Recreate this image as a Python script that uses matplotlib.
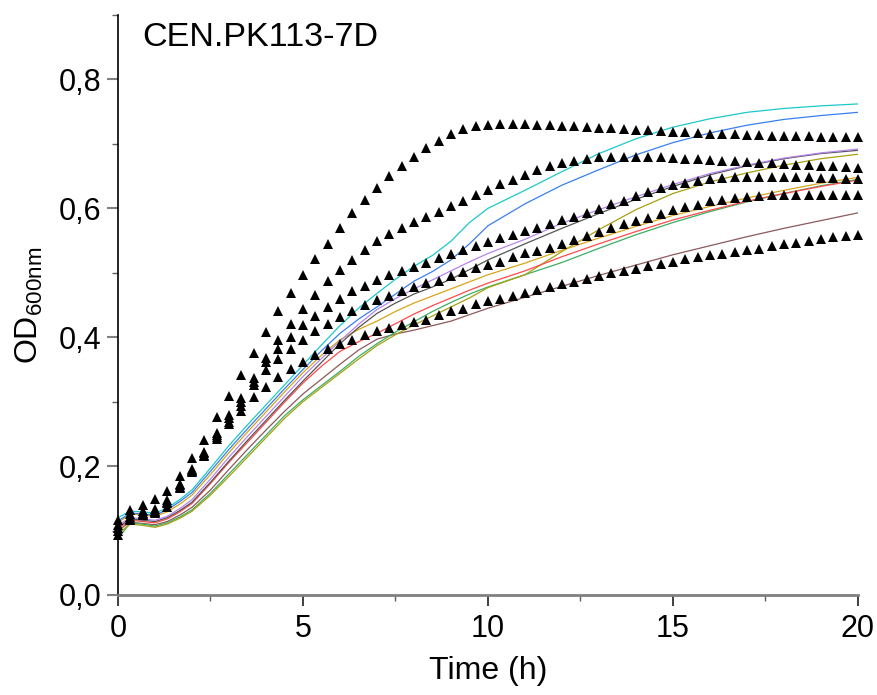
import matplotlib
matplotlib.use("Agg")
import matplotlib.pyplot as plt
import numpy as np
from matplotlib.ticker import MultipleLocator, FuncFormatter

plt.rcParams['font.family'] = ['Liberation Sans', 'DejaVu Sans']
plt.rcParams['mathtext.fontset'] = 'custom'
plt.rcParams['mathtext.rm'] = 'Liberation Sans'
plt.rcParams['mathtext.it'] = 'Liberation Sans:italic'

# ---------------- data ----------------
# measured points (triangles), every 20 min
t_pts = [i / 3 for i in range(61)]

tri_1 = [0.116, 0.132, 0.140, 0.149, 0.161, 0.185, 0.212, 0.241, 0.276, 0.309,
         0.342, 0.375, 0.408, 0.440, 0.469, 0.496, 0.521, 0.545, 0.570, 0.593,
         0.613, 0.632, 0.650, 0.665, 0.680, 0.694, 0.705, 0.716, 0.723, 0.728,
         0.730, 0.731, 0.731, 0.731, 0.730, 0.729, 0.728, 0.727, 0.726, 0.725,
         0.724, 0.723, 0.722, 0.721, 0.720, 0.719, 0.718, 0.717, 0.716, 0.715,
         0.715, 0.714, 0.714, 0.713, 0.713, 0.712, 0.712, 0.711, 0.711, 0.711, 0.710]
tri_2 = [0.108, 0.125, 0.130, 0.133, 0.148, 0.172, 0.196, 0.222, 0.252, 0.279,
         0.305, 0.336, 0.367, 0.395, 0.421, 0.444, 0.466, 0.487, 0.504, 0.520,
         0.535, 0.549, 0.560, 0.570, 0.579, 0.587, 0.595, 0.603, 0.612, 0.620,
         0.629, 0.637, 0.644, 0.652, 0.660, 0.666, 0.671, 0.674, 0.677, 0.679,
         0.680, 0.680, 0.680, 0.680, 0.679, 0.678, 0.677, 0.676, 0.675, 0.674,
         0.673, 0.672, 0.671, 0.670, 0.669, 0.668, 0.667, 0.666, 0.665, 0.664, 0.662]
tri_3 = [0.104, 0.121, 0.127, 0.131, 0.145, 0.170, 0.194, 0.220, 0.248, 0.274,
         0.300, 0.331, 0.362, 0.381, 0.400, 0.419, 0.433, 0.447, 0.459, 0.471,
         0.480, 0.489, 0.496, 0.502, 0.509, 0.515, 0.523, 0.529, 0.535, 0.541,
         0.547, 0.554, 0.559, 0.565, 0.570, 0.575, 0.582, 0.587, 0.593, 0.599,
         0.606, 0.612, 0.619, 0.625, 0.631, 0.636, 0.640, 0.643, 0.646, 0.647,
         0.648, 0.648, 0.648, 0.648, 0.648, 0.648, 0.648, 0.647, 0.647, 0.646, 0.646]
tri_4 = [0.100, 0.118, 0.125, 0.129, 0.142, 0.168, 0.192, 0.217, 0.245, 0.269,
         0.293, 0.326, 0.349, 0.366, 0.382, 0.396, 0.409, 0.421, 0.432, 0.441,
         0.450, 0.458, 0.464, 0.471, 0.478, 0.484, 0.488, 0.495, 0.501, 0.507,
         0.512, 0.517, 0.524, 0.530, 0.534, 0.539, 0.545, 0.551, 0.557, 0.563,
         0.570, 0.575, 0.580, 0.585, 0.591, 0.597, 0.602, 0.605, 0.611, 0.613,
         0.616, 0.618, 0.619, 0.620, 0.621, 0.621, 0.621, 0.621, 0.621, 0.621, 0.621]
tri_5 = [0.093, 0.116, 0.124, 0.128, 0.137, 0.166, 0.191, 0.215, 0.242, 0.265,
         0.286, 0.307, 0.323, 0.338, 0.351, 0.362, 0.372, 0.381, 0.389, 0.396,
         0.403, 0.409, 0.414, 0.419, 0.423, 0.427, 0.435, 0.441, 0.444, 0.451,
         0.456, 0.460, 0.464, 0.469, 0.474, 0.478, 0.482, 0.486, 0.491, 0.495,
         0.499, 0.502, 0.506, 0.511, 0.514, 0.517, 0.521, 0.524, 0.527, 0.529,
         0.532, 0.535, 0.537, 0.541, 0.544, 0.546, 0.549, 0.552, 0.555, 0.557, 0.559]

# simulated curves (lines)
t_line = [0, 0.33, 0.67, 1, 1.33, 1.67, 2, 2.5, 3, 3.5, 4, 4.5, 5, 5.5, 6, 6.5, 7,
          7.5, 8, 8.5, 9, 9.5, 10, 11, 12, 13, 14, 15, 16, 17, 18, 19, 20]

line_cyan = [0.120, 0.130, 0.129, 0.127, 0.135, 0.148, 0.163, 0.197, 0.232, 0.264, 0.295,
             0.326, 0.357, 0.388, 0.418, 0.445, 0.468, 0.490, 0.510, 0.527, 0.549, 0.578,
             0.600, 0.628, 0.657, 0.685, 0.708, 0.726, 0.739, 0.749, 0.755, 0.759, 0.762]
line_blue = [0.115, 0.127, 0.126, 0.124, 0.132, 0.145, 0.159, 0.192, 0.226, 0.258, 0.289,
             0.320, 0.350, 0.379, 0.406, 0.428, 0.447, 0.467, 0.487, 0.502, 0.520, 0.545,
             0.573, 0.607, 0.636, 0.660, 0.683, 0.702, 0.717, 0.729, 0.738, 0.744, 0.749]
line_purple = [0.108, 0.120, 0.118, 0.116, 0.122, 0.134, 0.148, 0.180, 0.214, 0.246, 0.277,
               0.308, 0.339, 0.367, 0.394, 0.420, 0.443, 0.460, 0.475, 0.489, 0.503, 0.517,
               0.530, 0.552, 0.577, 0.598, 0.618, 0.637, 0.654, 0.667, 0.678, 0.686, 0.692]
line_gray = [0.105, 0.118, 0.116, 0.114, 0.120, 0.131, 0.144, 0.175, 0.208, 0.240, 0.271,
             0.302, 0.332, 0.361, 0.390, 0.415, 0.437, 0.453, 0.467, 0.478, 0.490, 0.505,
             0.520, 0.545, 0.569, 0.592, 0.614, 0.634, 0.652, 0.666, 0.677, 0.685, 0.690]
line_olive = [0.095, 0.110, 0.108, 0.105, 0.110, 0.119, 0.130, 0.155, 0.184, 0.214, 0.244,
              0.274, 0.300, 0.322, 0.344, 0.366, 0.387, 0.404, 0.419, 0.433, 0.447, 0.461,
              0.477, 0.497, 0.533, 0.567, 0.598, 0.623, 0.641, 0.655, 0.667, 0.677, 0.684]
line_gold = [0.112, 0.126, 0.124, 0.122, 0.129, 0.141, 0.155, 0.187, 0.221, 0.253, 0.284,
             0.315, 0.345, 0.372, 0.396, 0.412, 0.425, 0.440, 0.453, 0.464, 0.475, 0.486,
             0.497, 0.515, 0.535, 0.554, 0.572, 0.589, 0.603, 0.616, 0.628, 0.639, 0.648]
line_red = [0.103, 0.116, 0.114, 0.112, 0.118, 0.129, 0.142, 0.173, 0.206, 0.237, 0.268,
            0.299, 0.329, 0.355, 0.378, 0.393, 0.406, 0.421, 0.436, 0.449, 0.461, 0.473,
            0.484, 0.503, 0.525, 0.545, 0.564, 0.582, 0.597, 0.611, 0.623, 0.634, 0.644]
line_green = [0.087, 0.112, 0.110, 0.107, 0.112, 0.121, 0.132, 0.158, 0.188, 0.218, 0.248,
              0.278, 0.303, 0.325, 0.347, 0.370, 0.390, 0.408, 0.424, 0.440, 0.454, 0.467,
              0.478, 0.497, 0.516, 0.538, 0.559, 0.578, 0.595, 0.610, 0.623, 0.635, 0.645]
line_brown = [0.100, 0.113, 0.111, 0.109, 0.114, 0.124, 0.136, 0.163, 0.195, 0.226, 0.256,
              0.285, 0.312, 0.335, 0.358, 0.380, 0.397, 0.405, 0.411, 0.418, 0.425, 0.435,
              0.445, 0.462, 0.479, 0.496, 0.512, 0.528, 0.542, 0.556, 0.569, 0.581, 0.593]

x_major_ticks = [0, 5, 10, 15, 20]
y_major_ticks = [0.0, 0.2, 0.4, 0.6, 0.8]
title_text = "CEN.PK113-7D"
x_label = "Time (h)"
y_label = r"OD$_{\mathrm{600nm}}$"

# ---------------- plot ----------------
fig = plt.figure(figsize=(8.78, 6.95), dpi=100)
ax = fig.add_axes([118 / 878, 1 - 595 / 695, 740 / 878, 580 / 695])

lines = [
    (line_brown, "#8c5a5a"),
    (line_green, "#3cae63"),
    (line_olive, "#a8a010"),
    (line_red, "#ff4a4a"),
    (line_gold, "#d8a418"),
    (line_gray, "#555555"),
    (line_purple, "#b584ee"),
    (line_blue, "#3a7ff0"),
    (line_cyan, "#1cc8cc"),
]
for vals, c in lines:
    ax.plot(t_line, vals, color=c, lw=0.9, zorder=2)

for tri in [tri_1, tri_2, tri_3, tri_4, tri_5]:
    ax.plot(t_pts, tri, linestyle='none', marker='^', markersize=6.5,
            color='black', markeredgewidth=0, zorder=3, clip_on=False)

ax.set_xlim(0, 20)
ax.set_ylim(0, 0.9)
ax.set_xticks(x_major_ticks)
ax.set_yticks(y_major_ticks)
ax.xaxis.set_minor_locator(MultipleLocator(2.5))
ax.yaxis.set_minor_locator(MultipleLocator(0.1))
ax.yaxis.set_major_formatter(FuncFormatter(lambda v, p: f"{v:.1f}".replace('.', ',')))

for s in ['top', 'right']:
    ax.spines[s].set_visible(False)
ax.spines['left'].set_color('black')
ax.spines['left'].set_linewidth(1.2)
ax.spines['bottom'].set_color('#808080')
ax.spines['bottom'].set_linewidth(2.0)

ax.tick_params(axis='x', which='major', direction='out', length=8, width=1.3,
               color='#303030', labelsize=22, pad=6)
ax.tick_params(axis='x', which='minor', direction='out', length=4, width=1.0,
               color='#606060')
ax.tick_params(axis='y', which='major', direction='out', length=8, width=1.5,
               color='#808080', labelsize=22, pad=4)
ax.tick_params(axis='y', which='minor', direction='out', length=4, width=1.0,
               color='#606060')

ax.set_xlabel(x_label, fontsize=23, labelpad=8)
ax.set_ylabel(y_label, fontsize=23, labelpad=10)

ax.text(24 / 740, (595 - 37) / 580, title_text, transform=ax.transAxes,
        fontsize=24.6, ha='left', va='center')

fig.savefig("out.png", dpi=100)
